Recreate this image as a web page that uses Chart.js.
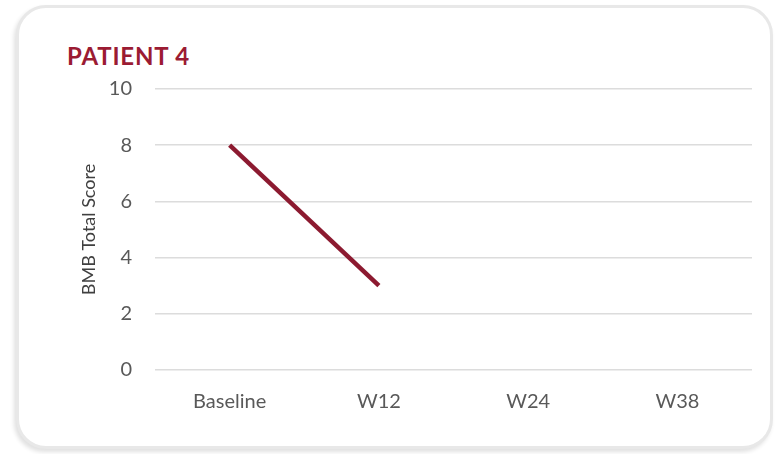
<!DOCTYPE html>
<html>
<head>
<meta charset="utf-8">
<script src="https://cdn.jsdelivr.net/npm/chart.js@4"></script>
<style>
  html, body { margin: 0; padding: 0; background: #ffffff; }
  body { width: 783px; height: 454px; position: relative; overflow: hidden; font-family: Lato, "Open Sans", sans-serif; }
  .card {
    position: absolute; left: 16px; top: 5px; width: 751px; height: 438px;
    border: 3px solid #e8e8e8; border-radius: 30px; background: #fff;
    box-shadow: -2px 3px 4px rgba(0,0,0,0.12);
  }
  .title {
    position: absolute; left: 67px; top: 41px; font-family: Lato, sans-serif;
    font-weight: bold; font-size: 24px; color: #9b1b33; letter-spacing: 0.8px;
  }
  #wrap { position: absolute; left: 0; top: 0; width: 783px; height: 454px; }
</style>
</head>
<body>
<div class="card"></div>
<div class="title">PATIENT 4</div>
<div id="wrap"><canvas id="c" width="783" height="454"></canvas></div>
<script>
const categories = ["Baseline", "W12", "W24", "W38"];
const scores = [8, 3, null, null];
const yTicks = [0, 2, 4, 6, 8, 10];
const yTitle = "BMB Total Score";

const ctx = document.getElementById('c');
new Chart(ctx, {
  type: 'line',
  data: {
    labels: categories,
    datasets: [{
      data: scores,
      borderColor: '#8c1a30',
      borderWidth: 4.5,
      pointRadius: 0,
      tension: 0,
      fill: false,
      spanGaps: false
    }]
  },
  options: {
    responsive: false,
    animation: false,
    devicePixelRatio: 1,
    layout: { padding: { left: 78, right: 31, top: 89, bottom: 0 } },
    plugins: { legend: { display: false }, tooltip: { enabled: false }, title: { display: false } },
    scales: {
      x: {
        offset: true,
        grid: { display: false, drawTicks: false },
        border: { display: false },
        ticks: { color: '#595959', padding: 20, font: { family: 'Lato', size: 20 } },
        afterFit: s => { s.height = 84; }
      },
      y: {
        min: 0, max: 10,
        afterBuildTicks: s => { s.ticks = yTicks.map(v => ({ value: v })); },
        grid: { color: '#dcdcdc', lineWidth: 1.5, drawTicks: false },
        border: { display: false },
        ticks: { color: '#595959', padding: 23, font: { family: 'Lato', size: 20 } },
        title: { display: true, text: yTitle, color: '#404040', padding: { top: 0, bottom: 0 }, font: { family: 'Lato', size: 18 } },
        afterFit: s => { s.width = 77; }
      }
    }
  }
});
</script>
</body>
</html>
